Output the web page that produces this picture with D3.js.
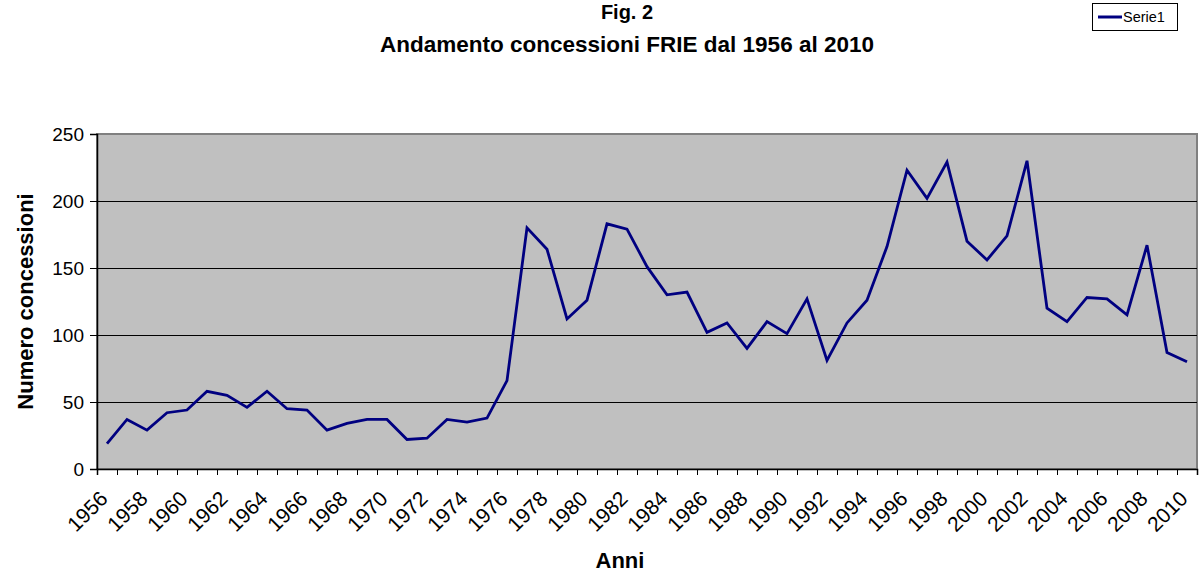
<!DOCTYPE html>
<html>
<head>
<meta charset="utf-8">
<script src="https://cdn.jsdelivr.net/npm/d3@7"></script>
<style>
  body { margin: 0; background: #fff; }
  svg { display: block; font-family: 'Liberation Sans', Arial, sans-serif; }
</style>
</head>
<body>
<svg width="1202" height="579"></svg>
<script>
// Concessioni FRIE per anno
const years = d3.range(1956, 2011)
const values = [
  19, 37, 29, 42, 44, 58, 55, 46, 58, 45,
  44, 29, 34, 37, 37, 22, 23, 37, 35, 38,
  66, 180, 164, 112, 126, 183, 179, 151, 130, 132,
  102, 109, 90, 110, 101, 127, 81, 109, 126, 166,
  223, 202, 229, 170, 156, 174, 230, 120, 110, 128,
  127, 115, 167, 87, 80
]
const yTicks = [0, 50, 100, 150, 200, 250]
const titleLines = ['Fig. 2', 'Andamento concessioni FRIE dal 1956 al 2010']
const seriesName = 'Serie1'

let svg = d3.select('svg')
let margin = { top: 134, right: 5, bottom: 110, left: 97 }
let width = +svg.attr('width') - margin.left - margin.right
let height = +svg.attr('height') - margin.top - margin.bottom

let x = d3.scaleBand()
  .domain(years)
  .range([margin.left, margin.left + width])
let y = d3.scaleLinear()
  .domain([0, 250])
  .range([margin.top + height, margin.top])

// plot area
svg.append('rect')
  .attr('x', margin.left)
  .attr('y', margin.top)
  .attr('width', width)
  .attr('height', height)
  .attr('fill', '#c0c0c0')
  .attr('stroke', '#808080')
  .attr('stroke-width', 2)

// gridlines
svg.append('g')
  .selectAll('line')
  .data(yTicks.filter(d => d > 0 && d < 250))
  .enter()
  .append('line')
  .attr('x1', margin.left)
  .attr('x2', margin.left + width)
  .attr('y1', d => y(d) + 0.5)
  .attr('y2', d => y(d) + 0.5)
  .attr('stroke', '#000')
  .attr('stroke-width', 1)

// y axis
let yAxis = svg.append('g')
  .attr('transform', 'translate(' + margin.left + ',0)')
  .call(d3.axisLeft(y).tickValues(yTicks).tickSize(7).tickPadding(6))
yAxis.select('.domain').attr('stroke', '#000').attr('stroke-width', 1.5)
yAxis.selectAll('.tick line').attr('stroke', '#000')
yAxis.selectAll('.tick text')
  .attr('font-size', 19)
  .attr('font-family', "'Liberation Sans', Arial, sans-serif")
  .attr('fill', '#000')

// x axis: ticks at category edges
let xEdge = d3.scaleLinear().domain([0, years.length]).range([margin.left, margin.left + width])
let xAxis = svg.append('g')
  .attr('transform', 'translate(0,' + (margin.top + height) + ')')
  .call(d3.axisBottom(xEdge).tickValues(d3.range(years.length + 1)).tickSize(6).tickFormat(''))
xAxis.select('.domain').attr('stroke', '#000').attr('stroke-width', 1.5)
xAxis.selectAll('.tick line').attr('stroke', '#000')

// x labels, every other year, rotated
svg.append('g')
  .selectAll('text')
  .data(years.filter((d, i) => i % 2 === 0))
  .enter()
  .append('text')
  .attr('transform', d => 'translate(' + (x(d) + x.bandwidth() / 2 + 2) + ',' + 500 + ') rotate(-45)')
  .attr('text-anchor', 'end')
  .attr('font-size', 21)
  .text(d => d)

// line
let line = d3.line()
  .x((d, i) => x(years[i]) + x.bandwidth() / 2)
  .y(d => y(d))

svg.append('path')
  .datum(values)
  .attr('d', line)
  .attr('fill', 'none')
  .attr('stroke', '#000080')
  .attr('stroke-width', 2.8)
  .attr('stroke-linejoin', 'miter')

// titles
svg.append('g')
  .selectAll('text')
  .data(titleLines)
  .enter()
  .append('text')
  .attr('x', 627)
  .attr('y', (d, i) => 19 + i * 33)
  .attr('text-anchor', 'middle')
  .attr('font-size', (d, i) => i === 0 ? 20 : 22.5)
  .attr('font-weight', 'bold')
  .text(d => d)

svg.append('text')
  .attr('x', 620)
  .attr('y', 568)
  .attr('text-anchor', 'middle')
  .attr('font-size', 22)
  .attr('font-weight', 'bold')
  .text('Anni')

svg.append('text')
  .attr('transform', 'translate(33,' + (margin.top + height / 2) + ') rotate(-90)')
  .attr('text-anchor', 'middle')
  .attr('font-size', 22)
  .attr('font-weight', 'bold')
  .text('Numero concessioni')

// legend
let legend = svg.append('g').attr('transform', 'translate(1092,3)')
legend.append('rect')
  .attr('x', 0.5)
  .attr('y', 0.5)
  .attr('width', 85)
  .attr('height', 27)
  .attr('fill', '#fff')
  .attr('stroke', '#000')
legend.append('line')
  .attr('x1', 6)
  .attr('x2', 30)
  .attr('y1', 14)
  .attr('y2', 14)
  .attr('stroke', '#000080')
  .attr('stroke-width', 3)
legend.append('text')
  .attr('x', 31)
  .attr('y', 19)
  .attr('font-size', 14.5)
  .text(seriesName)
</script>
</body>
</html>
